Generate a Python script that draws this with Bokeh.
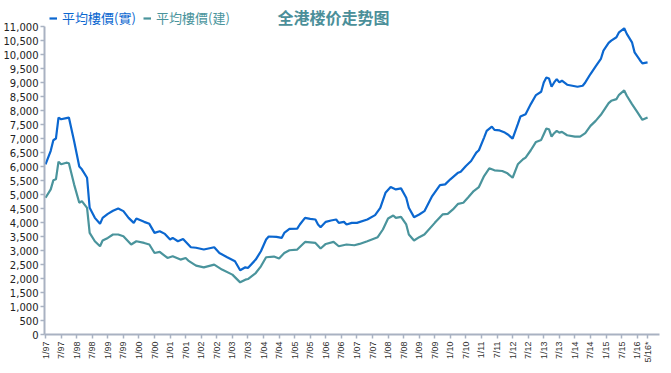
from bokeh.plotting import figure
from bokeh.models import (Range1d, FixedTicker, NumeralTickFormatter, Legend,
                          LegendItem, Label)
from bokeh.embed import file_html
from bokeh.resources import INLINE

TITLE = "全港楼价走势图"
SERIES_NAMES = ["平均樓價(實)", "平均樓價(建)"]

# x = months since Jan 1997
tick_months = [0, 6, 12, 18, 24, 30, 36, 42, 48, 54, 60, 66, 72, 78, 84, 90,
               96, 102, 108, 114, 120, 126, 132, 138, 144, 150, 156, 162, 168,
               174, 180, 186, 192, 198, 204, 210, 216, 222, 228, 232]
tick_labels = ["1/97", "7/97", "1/98", "7/98", "1/99", "7/99", "1/00", "7/00",
               "1/01", "7/01", "1/02", "7/02", "1/03", "7/03", "1/04", "7/04",
               "1/05", "7/05", "1/06", "7/06", "1/07", "7/07", "1/08", "7/08",
               "1/09", "7/09", "1/10", "7/10", "1/11", "7/11", "1/12", "7/12",
               "1/13", "7/13", "1/14", "7/14", "1/15", "7/15", "1/16", "5/16*"]

y_ticks = list(range(0, 11001, 500))
Y_MAX = 11000

saleable_months = [0, 2, 3, 4, 5, 6, 8, 9, 11, 13, 14, 16, 17, 19, 21, 22, 24, 26,
                   28, 30, 32, 34, 35, 38, 40, 42, 44, 46, 48, 49, 51, 53, 56, 58,
                   61, 65, 67, 70, 73, 75, 77, 78, 81, 83, 85, 86, 89, 91, 92, 94,
                   97, 98, 100, 102, 104, 105, 106, 108, 110, 112, 113, 115, 116,
                   118, 120, 124, 127, 129, 131, 133, 135, 137, 139, 140, 142, 144,
                   146, 149, 152, 154, 156, 159, 160, 162, 164, 166, 167, 169, 170,
                   172, 173, 175, 177, 178, 180, 182, 183, 185, 187, 189, 191, 192,
                   193, 194, 195, 196, 197, 198, 199, 201, 203, 205, 207, 208, 210,
                   212, 214, 215, 217, 218, 220, 221, 223, 224, 226, 227, 229, 230,
                   232]
saleable_values = [6080, 6560, 6940, 7000, 7750, 7690, 7730, 7750, 6915, 6000, 5900,
                   5600, 4525, 4167, 3953, 4167, 4310, 4420, 4504, 4407, 4167, 3988,
                   4146, 4024, 3953, 3630, 3690, 3594, 3393, 3450, 3332, 3415, 3117,
                   3100, 3035, 3117, 2913, 2759, 2616, 2293, 2400, 2376, 2676, 2974,
                   3393, 3500, 3487, 3450, 3630, 3773, 3785, 3930, 4167, 4131, 4108,
                   3930, 3834, 4024, 4072, 4108, 3988, 4024, 3930, 3988, 3988, 4108,
                   4264, 4525, 5063, 5267, 5184, 5220, 4884, 4525, 4192, 4288, 4407,
                   4945, 5339, 5362, 5543, 5780, 5816, 6020, 6199, 6496, 6582, 7033,
                   7274, 7428, 7309, 7290, 7213, 7155, 6998, 7514, 7786, 7872, 8230,
                   8553, 8671, 9004, 9183, 9148, 8850, 9004, 9125, 9004, 9065, 8922,
                   8886, 8850, 8886, 9004, 9305, 9577, 9842, 10140, 10416, 10498,
                   10617, 10796, 10939, 10738, 10437, 10079, 9807, 9685, 9721]

gross_months = [0, 2, 3, 4, 5, 6, 8, 9, 11, 13, 14, 16, 17, 19, 21, 22, 24, 26, 28,
                30, 33, 35, 38, 40, 42, 44, 47, 49, 52, 54, 55, 58, 61, 65, 68, 72,
                75, 77, 78, 81, 83, 85, 88, 90, 92, 94, 97, 100, 104, 106, 108, 111,
                113, 116, 119, 121, 124, 128, 130, 132, 134, 135, 137, 139, 140,
                142, 144, 146, 150, 153, 155, 157, 159, 161, 163, 165, 167, 169,
                171, 173, 176, 178, 180, 182, 184, 185, 187, 189, 191, 192, 193,
                194, 195, 196, 197, 198, 199, 201, 204, 206, 208, 210, 212, 214,
                217, 218, 220, 221, 223, 224, 226, 228, 230, 232]
gross_values = [4884, 5184, 5507, 5543, 6174, 6080, 6138, 6116, 5364, 4705, 4765,
                4525, 3630, 3332, 3153, 3357, 3450, 3572, 3572, 3511, 3214, 3332,
                3271, 3214, 2913, 2949, 2734, 2795, 2676, 2734, 2640, 2461, 2400,
                2497, 2318, 2139, 1863, 1959, 1982, 2196, 2436, 2759, 2783, 2712,
                2913, 3010, 3035, 3307, 3271, 3071, 3235, 3307, 3153, 3214, 3189,
                3235, 3332, 3476, 3751, 4146, 4253, 4167, 4203, 3930, 3572, 3357,
                3476, 3572, 3988, 4288, 4310, 4468, 4669, 4705, 4909, 5124, 5267,
                5661, 5937, 5865, 5840, 5758, 5600, 6080, 6259, 6317, 6582, 6879,
                6951, 7155, 7356, 7334, 7069, 7191, 7274, 7213, 7238, 7119, 7069,
                7069, 7191, 7452, 7632, 7847, 8266, 8348, 8409, 8563, 8718, 8528,
                8230, 7954, 7668, 7750]

BLUE = "#0b67d0"
TEAL = "#4a949c"
AXIS = "#a9b2c2"

# frame spans from top border (2px) down to axis; 11,000 sits 24px below top
FRAME_H = 331
HEADROOM = 24
y_end = Y_MAX * (FRAME_H) / (FRAME_H - HEADROOM)

p = figure(width=663, height=365, output_backend="svg", toolbar_location=None,
           x_range=Range1d(-0.4, 236.6), y_range=Range1d(0, y_end),
           min_border_top=2, min_border_right=4, min_border_left=10,
           min_border_bottom=10)
p.outline_line_color = None
p.xgrid.visible = False
p.ygrid.visible = False
p.background_fill_color = "white"
p.border_fill_color = "white"

r1 = p.line(saleable_months, saleable_values, line_color=BLUE, line_width=2.2)
r2 = p.line(gross_months, gross_values, line_color=TEAL, line_width=2.2)

# axes
p.xaxis.ticker = FixedTicker(ticks=tick_months)
p.xaxis.major_label_overrides = {m: t for m, t in zip(tick_months, tick_labels)}
p.xaxis.major_label_orientation = 1.5708
p.xaxis.major_label_text_font = "Liberation Sans"
p.xaxis.major_label_text_font_size = "9px"
p.xaxis.major_label_text_color = "#333333"
p.xaxis.major_label_standoff = 3

p.yaxis.ticker = FixedTicker(ticks=y_ticks)
p.yaxis.bounds = (0, Y_MAX)
p.yaxis.formatter = NumeralTickFormatter(format="0,0")
p.yaxis.major_label_text_font = "DejaVu Sans"
p.yaxis.major_label_text_font_size = "10px"
p.yaxis.major_label_text_color = "#222222"
p.yaxis.major_label_standoff = 2

for ax in (p.xaxis, p.yaxis):
    ax.axis_line_color = AXIS
    ax.axis_line_width = 2
    ax.major_tick_line_color = AXIS
    ax.major_tick_line_width = 1.5
    ax.major_tick_out = 4
    ax.major_tick_in = 0
    ax.minor_tick_line_color = None

# legends (one per colour)
for rend, name, col, loc in ((r1, SERIES_NAMES[0], BLUE, (5, 307)),
                             (r2, SERIES_NAMES[1], TEAL, (99, 307))):
    lg = Legend(items=[LegendItem(label=name, renderers=[rend])],
                location=loc, orientation="horizontal",
                label_text_color=col, label_text_font="Noto Sans CJK TC",
                label_text_font_size="13px", glyph_width=8, glyph_height=14,
                label_standoff=5, padding=0, margin=0,
                border_line_color=None, background_fill_alpha=0)
    p.add_layout(lg)

p.add_layout(Label(x=233, y=318, x_units="screen", y_units="screen",
                   text=TITLE, text_font="Noto Sans CJK SC",
                   text_font_style="bold", text_font_size="16px",
                   text_color="#4b8f99", text_baseline="middle"))

open("out.html", "w").write(file_html(p, INLINE))
